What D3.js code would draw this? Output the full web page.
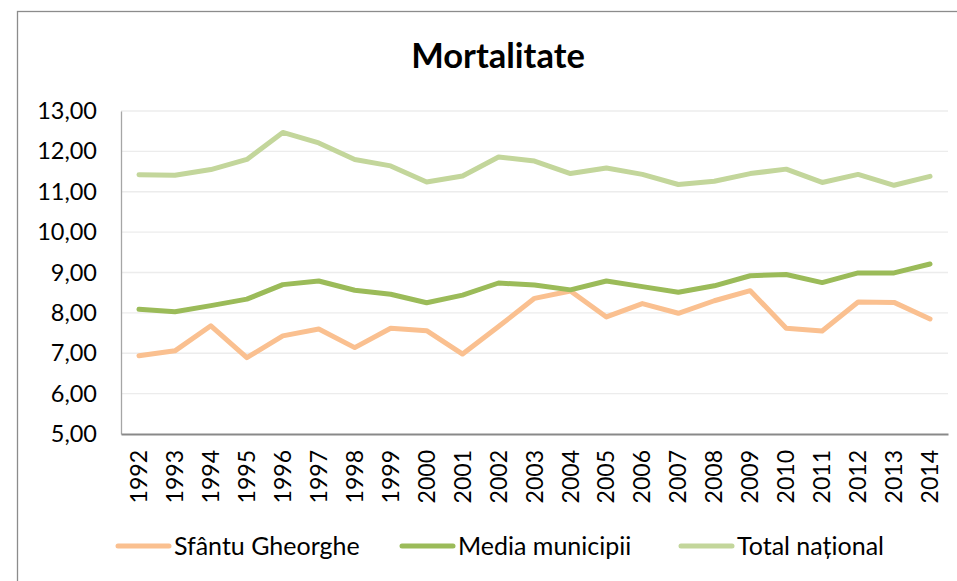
<!DOCTYPE html>
<html>
<head>
<meta charset="utf-8">
<script src="https://cdn.jsdelivr.net/npm/d3@7"></script>
<style>
  body { margin: 0; background: #fff; }
  svg { display: block; font-family: Lato, "Open Sans", sans-serif; }
</style>
</head>
<body>
<div id="chart"></div>
<script>
var years = ["1992","1993","1994","1995","1996","1997","1998","1999","2000","2001","2002","2003",
             "2004","2005","2006","2007","2008","2009","2010","2011","2012","2013","2014"];

var sfantuGheorghe = [6.94,7.06,7.68,6.89,7.43,7.60,7.14,7.62,7.56,6.98,7.66,8.36,
                      8.54,7.90,8.23,7.99,8.30,8.55,7.62,7.55,8.27,8.26,7.85];
var mediaMunicipii = [8.09,8.03,8.18,8.34,8.70,8.79,8.56,8.46,8.25,8.44,8.74,8.69,
                      8.57,8.79,8.65,8.51,8.67,8.92,8.95,8.75,8.99,8.99,9.21];
var totalNational  = [11.42,11.41,11.55,11.80,12.47,12.21,11.80,11.64,11.24,11.39,11.86,11.76,
                      11.45,11.59,11.43,11.18,11.26,11.45,11.56,11.23,11.43,11.16,11.38];

var yTicks = [5,6,7,8,9,10,11,12,13];

var seriesNames = ["Sfântu Gheorghe", "Media municipii", "Total național"];
var seriesValues = [sfantuGheorghe, mediaMunicipii, totalNational];
var seriesColors = ["#fac090", "#9bbb59", "#c3d69b"];

var width = 957,
    height = 581;

var svg = d3.select("#chart")
    .append("svg")
    .attr("width", width)
    .attr("height", height);

// chart frame (right and bottom edges are off the picture)
svg.append("rect")
    .attr("x", 17.5)
    .attr("y", 11.5)
    .attr("width", 960)
    .attr("height", 600)
    .attr("fill", "#fff")
    .attr("stroke", "#8c8c8c")
    .attr("stroke-width", 1.3);

var x = d3.scaleBand()
    .domain(years)
    .range([121, 948]);

var y = d3.scaleLinear()
    .domain([5, 13])
    .range([434, 111]);

// gridlines
svg.append("g")
    .selectAll("line")
    .data(yTicks.slice(1))
    .enter()
    .append("line")
    .attr("x1", 121)
    .attr("x2", 948)
    .attr("y1", function(d){ return y(d); })
    .attr("y2", function(d){ return y(d); })
    .attr("stroke", "#ececec")
    .attr("stroke-width", 1.3);

// y axis
var yAxis = svg.append("g")
    .attr("transform", "translate(121,0)")
    .call(d3.axisLeft(y)
      .tickValues(yTicks)
      .tickSize(0)
      .tickPadding(24)
      .tickFormat(function(d){ return d3.format(".2f")(d).replace(".", ","); }));
yAxis.select(".domain").attr("stroke", "#a6a6a6").attr("stroke-width", 1.3);
yAxis.selectAll("text")
    .attr("fill", "#000")
    .style("font-size", "23.5px")
    .style("font-family", "Lato, sans-serif");

// x axis
var xAxis = svg.append("g")
    .attr("transform", "translate(0,434)")
    .call(d3.axisBottom(x).tickSize(0));
xAxis.select(".domain").attr("stroke", "#898989").attr("stroke-width", 2);
xAxis.selectAll("text")
    .attr("fill", "#000")
    .style("font-size", "23px")
    .style("font-family", "Lato, sans-serif")
    .attr("text-anchor", "end")
    .attr("dy", "0.35em")
    .attr("transform", "translate(0,16) rotate(-90)")
    .attr("x", 0)
    .attr("y", 0);

// lines
var line = d3.line()
    .x(function(d, i){ return x(years[i]) + x.bandwidth() / 2; })
    .y(function(d){ return y(d); });

svg.append("g")
    .selectAll("path")
    .data(seriesValues)
    .enter()
    .append("path")
    .attr("d", line)
    .attr("fill", "none")
    .attr("stroke", function(d, i){ return seriesColors[i]; })
    .attr("stroke-width", 5)
    .attr("stroke-linejoin", "round")
    .attr("stroke-linecap", "round");

// title
svg.append("text")
    .attr("x", 498)
    .attr("y", 68)
    .attr("text-anchor", "middle")
    .style("font-size", "34.5px")
    .style("font-weight", "bold")
    .text("Mortalitate");

// legend
var legendX = [116, 400, 679];
var legend = svg.append("g")
    .selectAll("g")
    .data(seriesNames)
    .enter()
    .append("g")
    .attr("transform", function(d, i){ return "translate(" + legendX[i] + ",546)"; });

legend.append("line")
    .attr("x1", 2)
    .attr("x2", 53)
    .attr("stroke", function(d, i){ return seriesColors[i]; })
    .attr("stroke-width", 5)
    .attr("stroke-linecap", "round");

legend.append("text")
    .attr("x", 58)
    .attr("dy", "0.35em")
    .style("font-size", "25px")
    .text(function(d){ return d; });
</script>
</body>
</html>
